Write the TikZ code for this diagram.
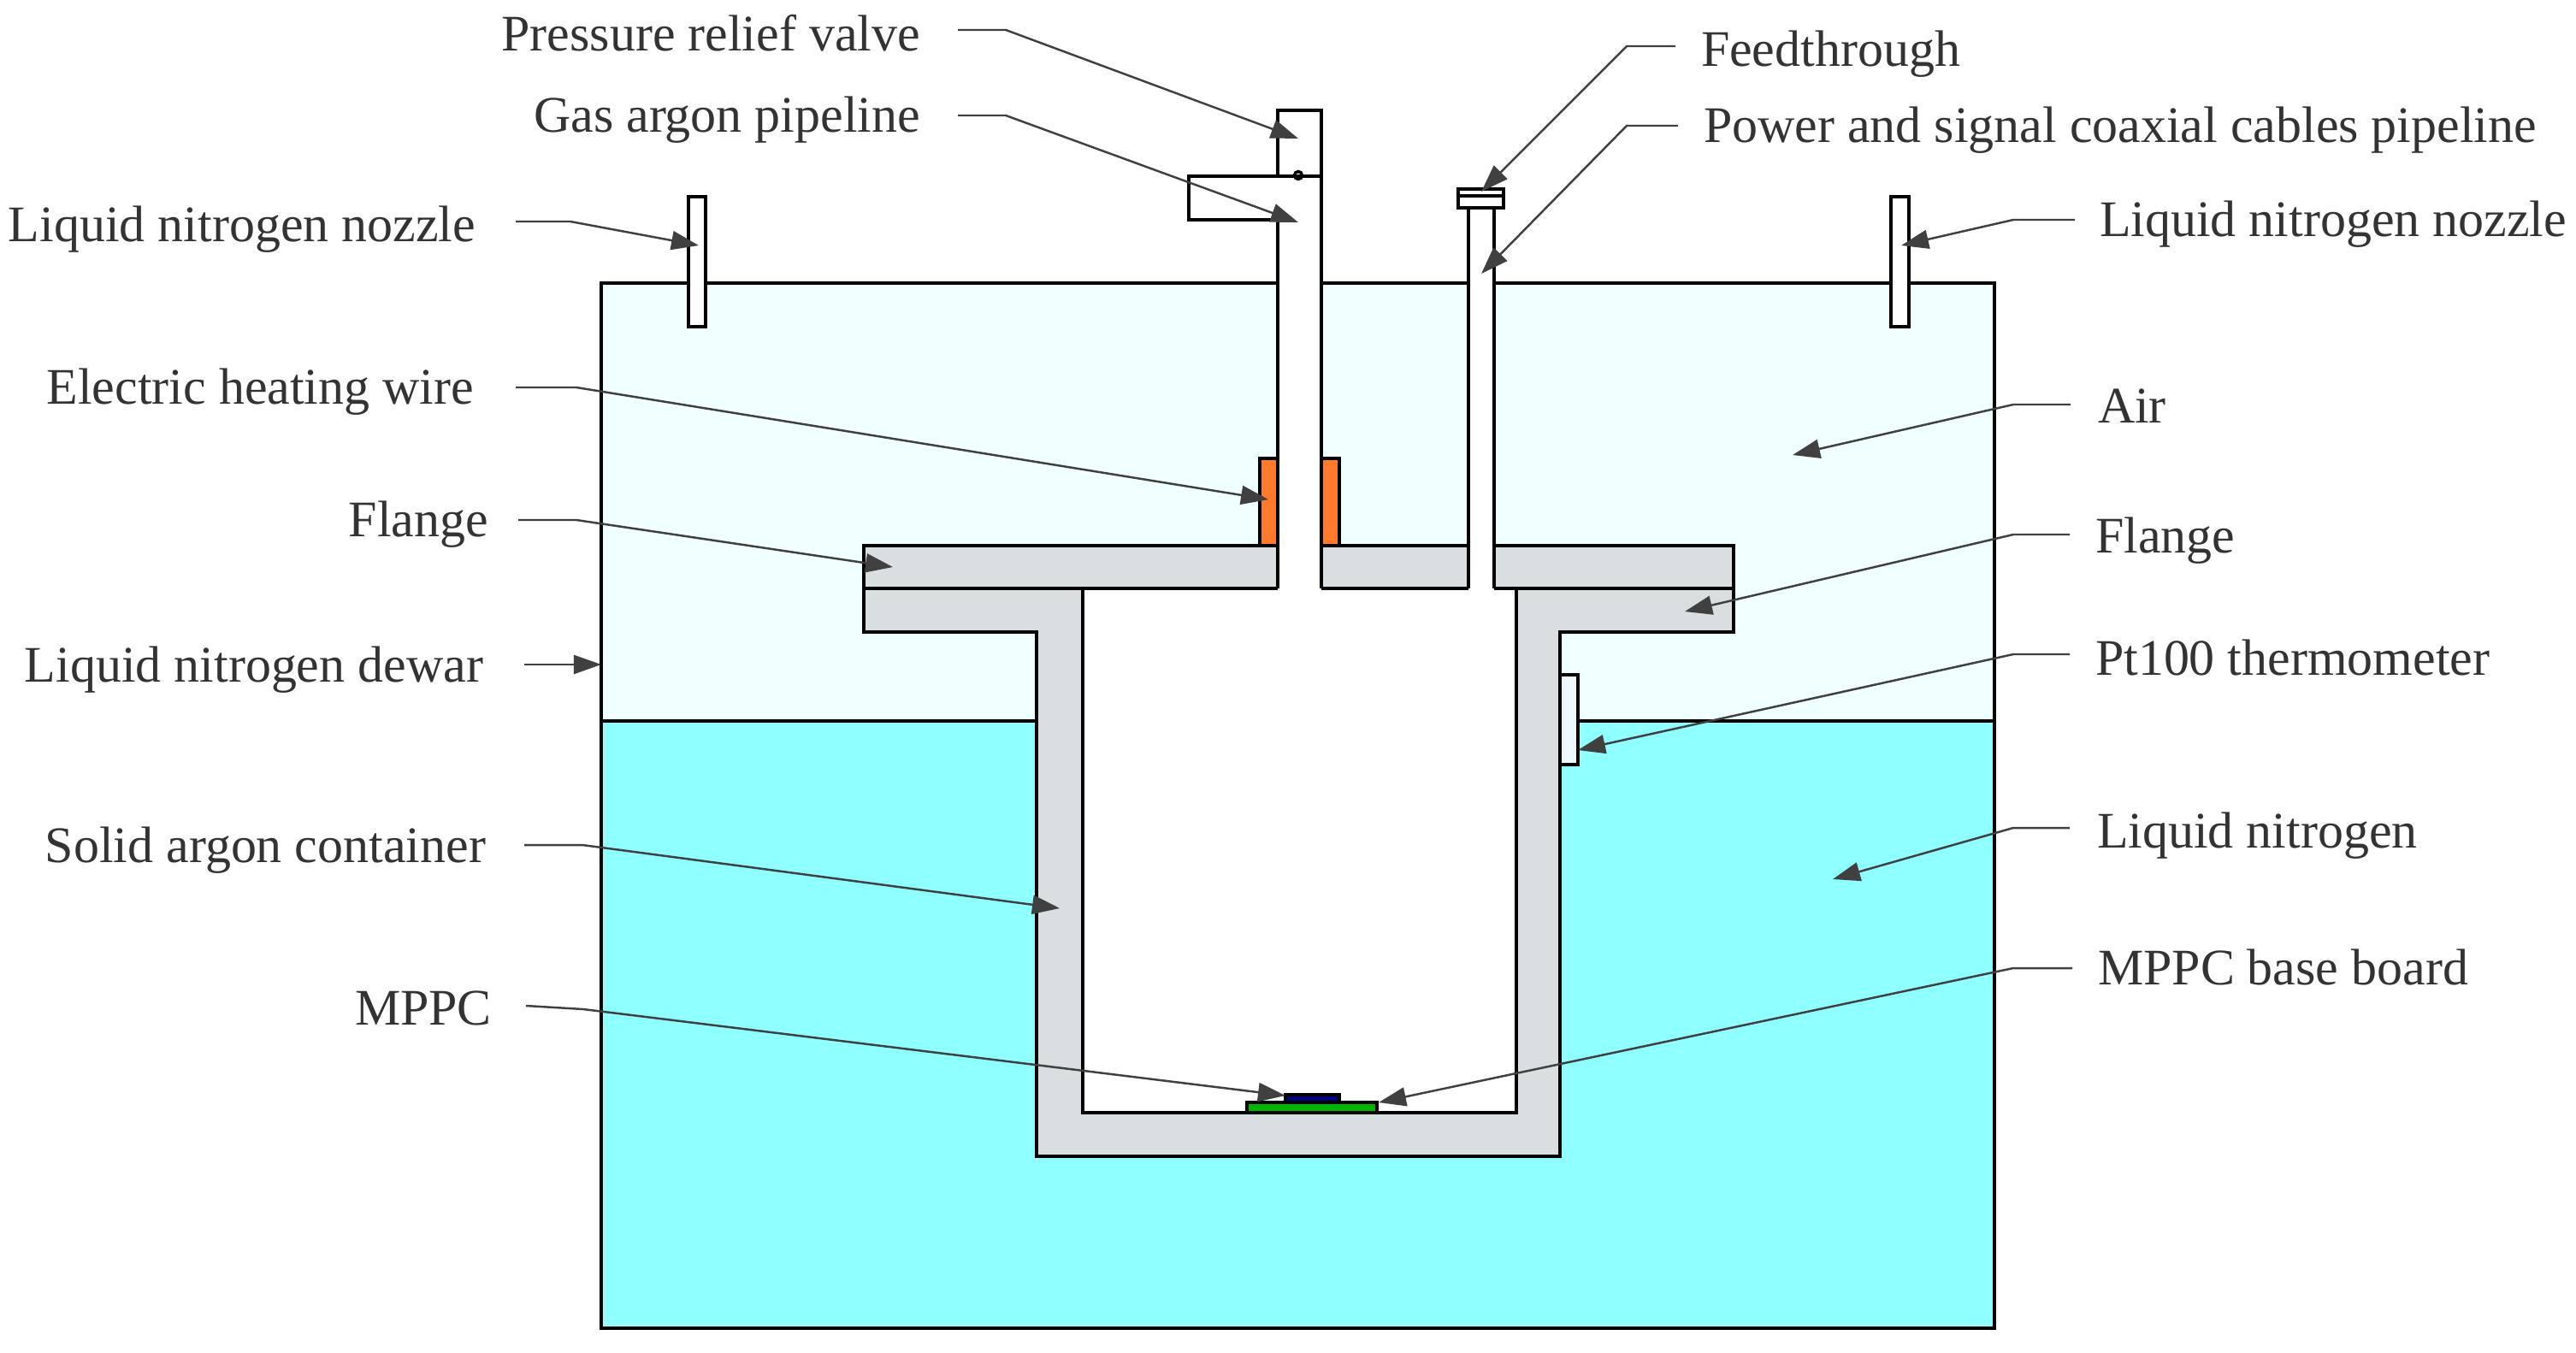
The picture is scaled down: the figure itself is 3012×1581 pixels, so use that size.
\documentclass[tikz,border=0pt]{standalone}
\usepackage{fontspec}
\setmainfont{Liberation Serif}
\usetikzlibrary{arrows.meta}
\definecolor{airc}{HTML}{F0FFFF}
\definecolor{lnc}{HTML}{8FFFFF}
\definecolor{steelc}{HTML}{D9DEE1}
\definecolor{heatc}{HTML}{FF7A2B}
\definecolor{boardc}{HTML}{00B400}
\definecolor{chipc}{HTML}{000080}
\definecolor{thermc}{HTML}{F0F8FF}
\definecolor{inkc}{HTML}{333333}
\definecolor{leadc}{HTML}{404040}
\tikzset{
  wall/.style={draw=black,line width=1pt,line join=miter},
  edgeline/.style={black,line width=1pt},
  lead/.style={draw=leadc,line width=0.7pt,-{Triangle[length=0.32cm,width=0.22cm]}},
  lbl/.style={inner sep=0pt,outer sep=0pt,text=inkc,font=\fontsize{17.05}{20}\selectfont},
  lblL/.style={lbl,anchor=base west},
  lblR/.style={lbl,anchor=base east},
}
\newcommand{\callout}[4]{%
  \coordinate (#1s) at (#2);
  \coordinate (#1e) at (#3);
  \coordinate (#1t) at (#4);
  \draw[lead] (#1s) -- (#1e) -- (#1t);
}
\begin{document}
\begin{tikzpicture}[x=0.01cm,y=-0.01cm]
\useasboundingbox (0,0) rectangle (3012,1581);
% dewar contents
\fill[airc] (703,331) rectangle (2332,843);
\fill[lnc] (703,843) rectangle (2332,1553);
% container steel and inner cavity
\fill[white] (1266,688) rectangle (1773,1301);
\fill[steelc] (1010,638) rectangle (2027,688);
\fill[steelc] (1010,688) -- (1010,739) -- (1212,739) -- (1212,1352) -- (1824,1352) -- (1824,739) -- (2027,739) -- (2027,688) -- (1773,688) -- (1773,1301) -- (1266,1301) -- (1266,688) -- cycle;
% pipes
\fill[white] (1494,129) rectangle (1545,688);
\fill[white] (1390,206) rectangle (1494,257);
\fill[white] (1717,243) rectangle (1747,688);
% dewar outline
\draw[edgeline] (1494,331) -- (703,331) -- (703,1553) -- (2332,1553) -- (2332,331) -- (1747,331);
\draw[edgeline] (1545,331) -- (1717,331);
\draw[edgeline] (703,843) -- (1212,843);
\draw[edgeline] (1845,843) -- (2332,843);
% flange and container outline
\draw[wall] (1494,638) -- (1010,638) -- (1010,739) -- (1212,739) -- (1212,1352) -- (1824,1352) -- (1824,739) -- (2027,739) -- (2027,638) -- (1747,638);
\draw[wall] (1545,638) -- (1717,638);
\draw[wall] (1010,688) -- (1494,688);
\draw[wall] (1545,688) -- (1717,688);
\draw[wall] (1747,688) -- (2027,688);
\draw[wall] (1266,688) -- (1266,1301) -- (1773,1301) -- (1773,688);
% gas pipe and valve
\draw[wall] (1494,206) -- (1494,129) -- (1545,129) -- (1545,688);
\draw[wall] (1494,688) -- (1494,257) -- (1390,257) -- (1390,206) -- (1545,206);
\draw[wall] (1518,205) circle (4.5);
% heating wire
\draw[wall,fill=heatc] (1494,638) -- (1494,536) -- (1473,536) -- (1473,638) -- cycle;
\draw[wall,fill=heatc] (1545,638) -- (1545,536) -- (1566,536) -- (1566,638) -- cycle;
% cable pipe and feedthrough
\draw[wall] (1717,688) -- (1717,243);
\draw[wall] (1747,688) -- (1747,243);
\draw[wall,fill=white] (1705,221) rectangle (1758,243);
\draw[wall] (1705,229) -- (1758,229);
% nozzles
\draw[wall,fill=white] (805,230) rectangle (825,382);
\draw[wall,fill=white] (2211,230) rectangle (2232,382);
% thermometer
\draw[wall,fill=thermc] (1824,789) rectangle (1845,894);
% MPPC
\draw[wall,fill=boardc] (1458,1289) rectangle (1610,1301);
\draw[wall,fill=chipc] (1503,1280) rectangle (1566,1289);
% labels
\node[lblR] (prv) at (1076,59) {Pressure relief valve};
\node[lblR] (gap) at (1076,154) {Gas argon pipeline};
\node[lblR] (lnnl) at (556,282) {Liquid nitrogen nozzle};
\node[lblR] (ehw) at (554,472) {Electric heating wire};
\node[lblR] (fll) at (571,627) {Flange};
\node[lblR] (lnd) at (565,797) {Liquid nitrogen dewar};
\node[lblR] (sac) at (568,1008) {Solid argon container};
\node[lblR] (mppc) at (575,1198) {MPPC};
\node[lblL] (ft) at (1989,77) {Feedthrough};
\node[lblL] (pwr) at (1992,166) {Power and signal coaxial cables pipeline};
\node[lblL] (lnnr) at (2455,276) {Liquid nitrogen nozzle};
\node[lblL] (air) at (2453,494) {Air};
\node[lblL] (flr) at (2450,646) {Flange};
\node[lblL] (pt) at (2450,789) {Pt100 thermometer};
\node[lblL] (ln) at (2452,991) {Liquid nitrogen};
\node[lblL] (bb) at (2453,1151) {MPPC base board};
% connectors
\callout{a}{1120,35}{1176,35}{1518,162}
\callout{b}{1120,135}{1176,135}{1518,260}
\callout{c}{603,259}{667,259}{817,287}
\callout{d}{603,453}{674,453}{1483,584}
\callout{e}{606,608}{674,608}{1044,663}
\coordinate (fs) at (613,777);
\coordinate (ft2) at (703,777);
\draw[lead] (fs) -- (ft2);
\callout{g}{613,988}{681,988}{1239,1062}
\callout{h}{615,1176}{682,1180}{1503,1281}
\callout{i}{1959,54}{1902,54}{1732,224}
\callout{j}{1962,147}{1902,147}{1732,320}
\callout{k}{2426,257}{2354,257}{2223,287}
\callout{l}{2421,473}{2354,473}{2096,532}
\callout{m}{2420,625}{2354,625}{1970,715}
\callout{n}{2420,765}{2354,765}{1845,877}
\callout{o}{2420,968}{2354,968}{2143,1028}
\callout{p}{2423,1132}{2354,1132}{1612,1289}
\end{tikzpicture}
\end{document}
